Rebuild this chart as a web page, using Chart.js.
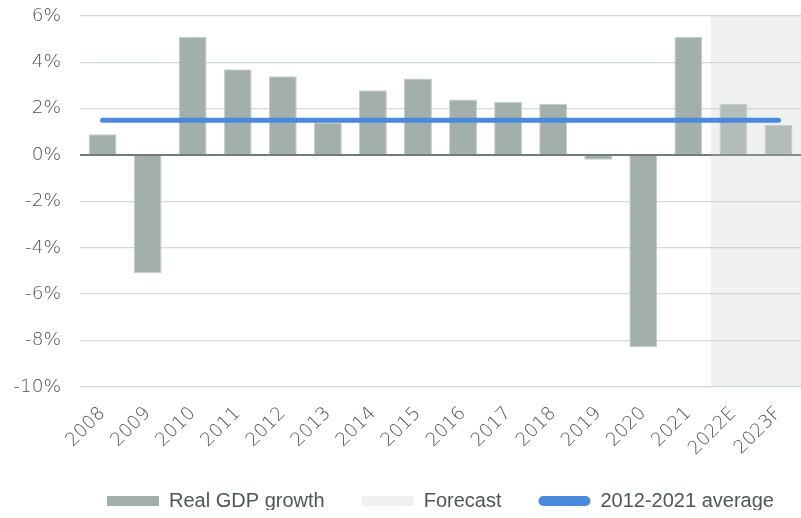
<!DOCTYPE html>
<html>
<head>
<meta charset="utf-8">
<script src="https://cdn.jsdelivr.net/npm/chart.js@4"></script>
<style>
html, body { margin: 0; padding: 0; background: #fff; }
#wrap { width: 801px; height: 518px; }
</style>
</head>
<body>
<div id="wrap"><canvas id="gdpChart"></canvas></div>
<script>
const years = ['2008', '2009', '2010', '2011', '2012', '2013', '2014', '2015',
    '2016', '2017', '2018', '2019', '2020', '2021', '2022E', '2023F'];
const gdpGrowth = [0.9, -5.1, 5.1, 3.7, 3.4, 1.4, 2.8, 3.3, 2.4, 2.3, 2.2, -0.2, -8.3, 5.1, 2.2, 1.3];
const average = [1.5, 1.5, 1.5, 1.5, 1.5, 1.5, 1.5, 1.5, 1.5, 1.5, 1.5, 1.5, 1.5, 1.5, 1.5, 1.5];
// shaded forecast band, spans the whole value axis for the forecast years
const forecastBand = [null, null, null, null, null, null, null, null,
    null, null, null, null, null, null, [-10, 6], [-10, 6]];

const barColors = years.map(y => /[EF]$/.test(y) ? '#b4bdba' : '#a3afab');
const tickFont = { family: "'DejaVu Sans'", weight: '200', size: 18.5 };

// legend sits centred under the plot area, not the whole canvas, a bit higher up
const legendUnderPlot = {
    id: 'legendUnderPlot',
    afterLayout(chart) {
        const lg = chart.legend;
        lg.left = chart.chartArea.left - 20;
        lg.right = chart.chartArea.right + 20;
        lg.width = lg.right - lg.left;
        lg.top -= 8;
        lg.bottom -= 8;
    }
};

const ctx = document.getElementById('gdpChart');

new Chart(ctx, {
    type: 'bar',
    data: {
        labels: years,
        datasets: [
            {
                label: 'Real GDP growth',
                data: gdpGrowth,
                backgroundColor: barColors,
                borderColor: '#c6cecb',
                borderWidth: 1,
                barPercentage: 0.62,
                categoryPercentage: 1,
                order: 2
            },
            {
                label: 'Forecast',
                data: forecastBand,
                backgroundColor: 'rgba(190,198,190,0.25)',
                borderWidth: 0,
                inflateAmount: 0,
                grouped: false,
                barPercentage: 1,
                categoryPercentage: 1,
                order: 3
            },
            {
                type: 'line',
                label: '2012-2021 average',
                data: average,
                borderColor: '#4a89dc',
                backgroundColor: '#4a89dc',
                borderWidth: 5,
                borderCapStyle: 'round',
                pointRadius: 0,
                order: 1
            }
        ]
    },
    options: {
        responsive: true,
        maintainAspectRatio: false,
        animation: false,
        layout: { padding: { top: 16, right: 0, bottom: 0, left: 0 } },
        scales: {
            x: {
                grid: { display: false, tickLength: 14 },
                border: { display: false },
                ticks: {
                    autoSkip: false,
                    maxRotation: 45,
                    minRotation: 45,
                    padding: 2,
                    color: '#4a5451',
                    font: tickFont
                }
            },
            y: {
                min: -10,
                max: 6,
                border: { display: false },
                grid: {
                    tickLength: 17,
                    tickColor: 'rgba(0,0,0,0)',
                    color: c => c.tick && c.tick.value === 0 ? '#6f7c78' : '#d3dad7',
                    lineWidth: c => c.tick && c.tick.value === 0 ? 2 : 1.3
                },
                ticks: {
                    stepSize: 2,
                    padding: 2,
                    color: '#4a5451',
                    font: tickFont,
                    callback: v => v + '%'
                },
                afterFit: scale => { scale.width = 80; }
            }
        },
        plugins: {
            tooltip: { enabled: false },
            legend: {
                position: 'bottom',
                maxHeight: 56,
                labels: {
                    boxWidth: 52,
                    boxHeight: 10,
                    padding: 37,
                    color: '#4d5754',
                    font: { family: "'Liberation Sans'", size: 20 },
                    sort: (a, b) => a.datasetIndex - b.datasetIndex,
                    generateLabels: chart => {
                        const items = Chart.defaults.plugins.legend.labels.generateLabels(chart);
                        items.forEach(it => {
                            it.lineWidth = 0;
                            if (it.datasetIndex === 2) it.borderRadius = 5;
                        });
                        return items;
                    }
                }
            }
        }
    },
    plugins: [legendUnderPlot]
});
</script>
</body>
</html>
